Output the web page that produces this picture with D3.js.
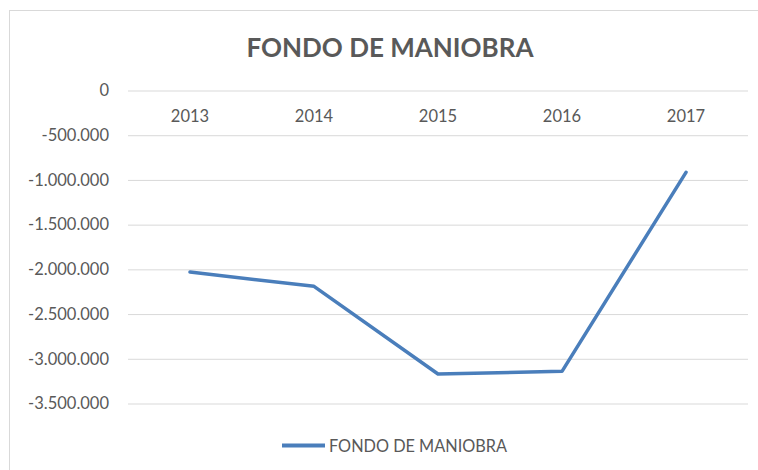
<!DOCTYPE html>
<html lang="es">
  <head>
    <meta charset="utf-8">
    <title>Fondo de maniobra</title>
    <style>
      body { margin: 0; background: #fff; }
      svg { display: block; font-family: Lato, "Open Sans", sans-serif; }
    </style>
  </head>
  <body>
    <svg id="chart"></svg>

    <script src="https://d3js.org/d3.v7.min.js"></script>

    <script type="text/javascript">
      // datos
      const years = ['2013', '2014', '2015', '2016', '2017'];
      const fondo = [-2030000, -2190000, -3170000, -3140000, -915000];
      const yTicks = [0, -500000, -1000000, -1500000, -2000000, -2500000, -3000000, -3500000];
      const title = 'FONDO DE MANIOBRA';
      const seriesName = 'FONDO DE MANIOBRA';

      const width = 758, height = 470;
      const svg = d3.select('#chart')
        .attr('width', width)
        .attr('height', height);

      // marco del grafico
      svg.append('rect')
        .attr('x', 9.5).attr('y', 10.5)
        .attr('width', 760).attr('height', 480)
        .attr('fill', 'none')
        .attr('stroke', '#d9d9d9');

      const x = d3.scaleBand().domain(years).range([128, 748]);
      const y = d3.scaleLinear().domain([-3500000, 0]).range([403.5, 90.5]);

      // formato es-ES: punto como separador de miles, guion normal
      const fmt = d3.formatLocale({decimal: ',', thousands: '.', grouping: [3], currency: ['', '€'], minus: '-'}).format(',d');

      svg.append('text')
        .attr('x', 390).attr('y', 57)
        .attr('text-anchor', 'middle')
        .attr('font-size', 26)
        .attr('font-weight', 'bold')
        .attr('fill', '#595959')
        .text(title);

      // rejilla + etiquetas del eje y
      const yAxis = svg.append('g')
        .attr('transform', 'translate(128,0)')
        .call(d3.axisLeft(y).tickValues(yTicks).tickFormat(fmt).tickSize(-620).tickPadding(19));
      yAxis.select('.domain').remove();
      yAxis.selectAll('line').attr('stroke', '#d9d9d9');
      yAxis.selectAll('text').attr('fill', '#595959').attr('font-size', 16.5).attr('font-family', 'Lato, sans-serif');

      // eje de categorias en y = 0
      const xAxis = svg.append('g')
        .attr('transform', `translate(0,${y(0)})`)
        .call(d3.axisBottom(x).tickSize(0).tickPadding(20));
      xAxis.select('.domain').remove();
      xAxis.selectAll('text').attr('fill', '#595959').attr('font-size', 16.5).attr('font-family', 'Lato, sans-serif');

      const line = d3.line()
        .x((d, i) => x(years[i]) + x.bandwidth() / 2)
        .y(d => y(d));

      svg.append('path')
        .datum(fondo)
        .attr('d', line)
        .attr('fill', 'none')
        .attr('stroke', '#4A7EBB')
        .attr('stroke-width', 3.5)
        .attr('stroke-linejoin', 'round')
        .attr('stroke-linecap', 'round');

      // leyenda
      const legend = svg.append('g').attr('transform', 'translate(282,445.5)');
      legend.append('line')
        .attr('x1', 0).attr('x2', 43).attr('y1', 0).attr('y2', 0)
        .attr('stroke', '#4A7EBB').attr('stroke-width', 4);
      legend.append('text')
        .attr('x', 47).attr('y', 6)
        .attr('font-size', 16.3)
        .attr('fill', '#595959')
        .text(seriesName);
    </script>
  </body>
</html>
